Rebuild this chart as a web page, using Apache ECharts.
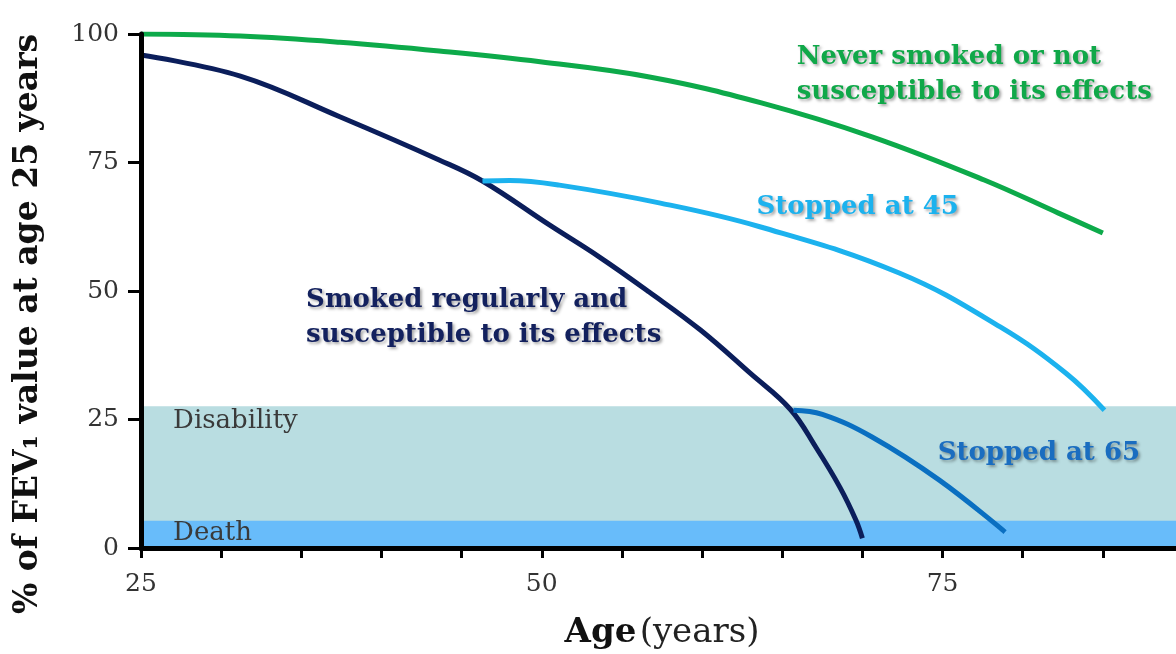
<!DOCTYPE html>
<html>
<head>
<meta charset="utf-8">
<script src="https://cdn.jsdelivr.net/npm/echarts@6/dist/echarts.min.js"></script>
<style>
html,body{margin:0;padding:0;background:#fff;}
#chart{width:1176px;height:654px;}
</style>
</head>
<body>
<div id="chart"></div>
<script>
// ---- data ----
const xTickLabels = [25, 50, 75];
const yTickLabels = [0, 25, 50, 75, 100];

const neverAges   = [25, 31.2, 37.4, 43.6, 49.9, 56.8, 63.7, 70.6, 77.6, 82.2, 85];
const neverValues = [100, 99.6, 98.4, 96.7, 94.6, 91.6, 86.6, 80.0, 71.6, 65.2, 61.3];

const smokedAges   = [25, 31.2, 37.4, 43.6, 46.3, 50.5, 53.6, 56.7, 59.9, 63.0, 65.5, 67.1, 68.6, 69.6, 70.0];
const smokedValues = [95.9, 91.8, 83.9, 75.5, 71.4, 62.8, 56.6, 49.8, 42.4, 34.0, 27.0, 19.6, 11.8, 5.4, 1.9];

const stop45Ages   = [46.3, 48, 51.1, 57.4, 63.6, 72.3, 78.6, 82.7, 85.1];
const stop45Values = [71.4, 71.5, 70.6, 67.1, 62.5, 53.5, 43.0, 34.0, 26.8];

const stop65Ages   = [65.7, 67.5, 70.6, 74.8, 78.9];
const stop65Values = [26.8, 26.0, 21.6, 13.2, 3.1];

const disabilityBand = [0, 27.6];
const deathBand = [0, 5.3];

const seriesNames = ['Never smoked or not susceptible to its effects', 'Smoked regularly and susceptible to its effects', 'Stopped at 45', 'Stopped at 65'];

// ---- build ----
const FONT = '"DejaVu Serif", serif';
function pairs(a, b) { return a.map((x, i) => [x, b[i]]); }

const chart = echarts.init(document.getElementById('chart'), null, {renderer: 'canvas'});

function lineSeries(name, data, color) {
  return {
    name, type: 'line', data, smooth: 0.4, symbol: 'none', z: 5,
    lineStyle: {color, width: 5, cap: 'butt'},
    emphasis: {disabled: true}
  };
}

const option = {
  animation: false,
  backgroundColor: '#fff',
  grid: {left: 141, right: -7, top: 34, bottom: 106, outerBoundsMode: 'none', containLabel: false},
  xAxis: {
    type: 'value', min: 25, max: 90, interval: 5, z: 20,
    axisLine: {show: true, onZero: false, lineStyle: {color: '#000', width: 5}},
    axisTick: {show: true, length: 10, lineStyle: {color: '#000', width: 3}},
    axisLabel: {
      fontFamily: FONT, fontSize: 25, color: '#333', margin: 24,
      formatter: v => xTickLabels.includes(v) ? String(v) : ''
    },
    splitLine: {show: false},
    name: '{b|Age} {r|(years)}', nameLocation: 'middle', nameGap: 68,
    nameTextStyle: {
      rich: {
        b: {fontFamily: FONT, fontSize: 34, fontWeight: 'bold', color: '#111'},
        r: {fontFamily: FONT, fontSize: 34, color: '#222'}
      }
    }
  },
  yAxis: {
    type: 'value', min: 0, max: 100, interval: 25, z: 20,
    axisLine: {show: true, onZero: false, lineStyle: {color: '#000', width: 5}},
    axisTick: {show: true, length: 13, lineStyle: {color: '#000', width: 3}},
    axisLabel: {
      fontFamily: FONT, fontSize: 25, color: '#333', margin: 22,
      formatter: v => yTickLabels.includes(v) ? String(v) : ''
    },
    splitLine: {show: false}
  },
  series: [
    {
      type: 'line', data: [], silent: true, z: 1,
      markArea: {
        silent: true,
        data: [
          [{yAxis: disabilityBand[0], itemStyle: {color: '#B9DDE1'}}, {yAxis: disabilityBand[1]}],
          [{yAxis: deathBand[0], itemStyle: {color: '#68BCFA'}}, {yAxis: deathBand[1]}]
        ]
      }
    },
    lineSeries(seriesNames[0], pairs(neverAges, neverValues), '#0DAA4A'),
    lineSeries(seriesNames[1], pairs(smokedAges, smokedValues), '#0B1E5B'),
    lineSeries(seriesNames[2], pairs(stop45Ages, stop45Values), '#1CB2EE'),
    lineSeries(seriesNames[3], pairs(stop65Ages, stop65Values), '#0A6FC1')
  ]
};
chart.setOption(option);

// annotations placed in data coordinates
const annotations = [
  {text: 'Never smoked or not\nsusceptible to its effects', at: [65.9, 92.0], color: '#10A849', bold: true, size: 26},
  {text: 'Stopped at 45', at: [63.4, 66.3], color: '#1CB2EE', bold: true, size: 26},
  {text: 'Smoked regularly and\nsusceptible to its effects', at: [35.3, 44.7], color: '#13215E', bold: true, size: 26},
  {text: 'Stopped at 65', at: [74.7, 18.5], color: '#1A6DC0', bold: true, size: 26},
  {text: 'Disability', at: [27.0, 24.7], color: '#3A3A3A', bold: false, size: 26},
  {text: 'Death', at: [27.0, 2.9], color: '#3A3A3A', bold: false, size: 26}
];

const graphics = annotations.map(a => {
  const p = chart.convertToPixel({gridIndex: 0}, a.at);
  return {
    type: 'text', x: p[0], y: p[1], z: 10, silent: true,
    style: {
      text: a.text, fill: a.color,
      font: (a.bold ? 'bold ' : '') + a.size + 'px ' + FONT,
      lineHeight: 35, align: 'left', verticalAlign: 'middle',
      textShadowColor: a.bold ? 'rgba(0,0,0,0.35)' : 'transparent',
      textShadowBlur: a.bold ? 3 : 0,
      textShadowOffsetX: a.bold ? 2 : 0,
      textShadowOffsetY: a.bold ? 2 : 0
    }
  };
});
graphics.push({
  type: 'text', x: 28, y: 324, rotation: Math.PI / 2, z: 10, silent: true,
  style: {
    text: '% of FEV\u2081 value at age 25 years', fill: '#111',
    font: 'bold 33px ' + FONT, align: 'center', verticalAlign: 'middle'
  }
});
chart.setOption({graphic: graphics});
</script>
</body>
</html>
